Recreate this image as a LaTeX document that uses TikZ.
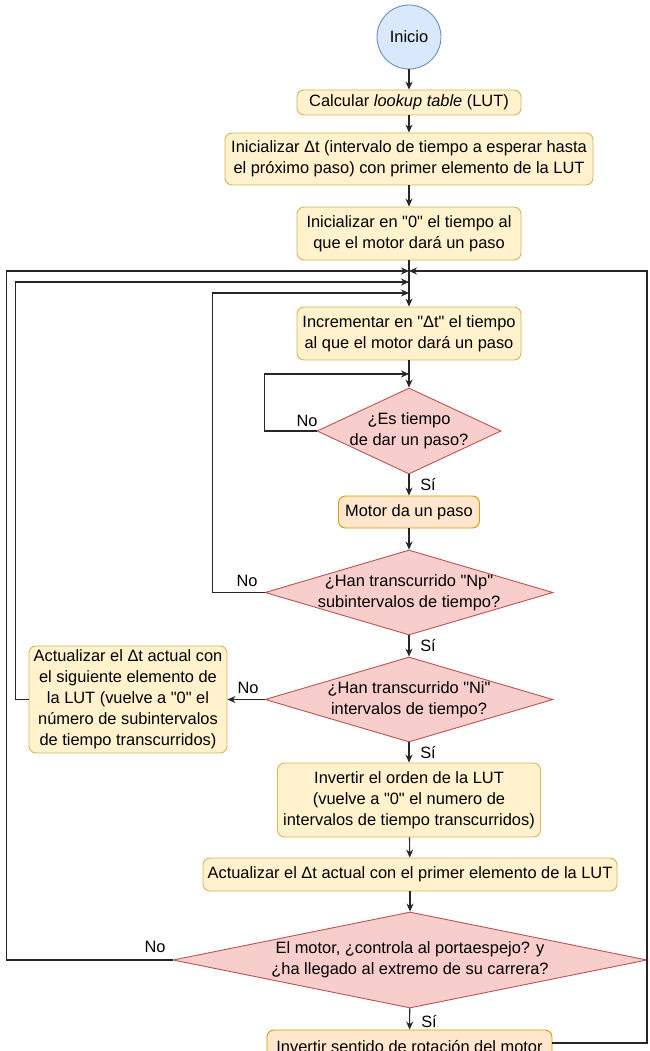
\documentclass[tikz,border=0pt]{standalone}
\usepackage{fontspec}
\setmainfont{Liberation Sans}[Ligatures=TeXOff]
\usetikzlibrary{shapes.geometric,arrows.meta}
\definecolor{yf}{HTML}{FFF2CC}
\definecolor{yb}{HTML}{D6B656}
\definecolor{of}{HTML}{FFE6CC}
\definecolor{ob}{HTML}{D79B00}
\definecolor{rf}{HTML}{F8CECC}
\definecolor{rb}{HTML}{B85450}
\definecolor{bf}{HTML}{DAE8FC}
\definecolor{bb}{HTML}{6C8EBF}
\definecolor{lc}{HTML}{262626}
\tikzset{
  base/.style={font=\fontsize{16.4}{21}\selectfont, text=black},
  proc/.style={base, draw=yb, fill=yf, rounded corners=7pt, align=center, inner sep=0pt, line width=0.9pt},
  proco/.style={proc, draw=ob, fill=of},
  dia/.style={diamond, draw=rb, fill=rf, inner sep=0pt, line width=0.9pt},
  lbl/.style={base, inner sep=0pt, align=center},
  flow/.style={draw=lc, line width=1.1pt, -{Stealth[length=8pt,width=7pt]}},
}
\begin{document}
\begin{tikzpicture}[x=1pt,y=-1pt]
\useasboundingbox (0,0) rectangle (649,1051);
\clip (0,0) rectangle (649,1051);
\fill[white] (0,0) rectangle (649,1051);

% nodes
\node[base, circle, draw=bb, fill=bf, line width=0.9pt, minimum size=64pt, inner sep=0pt] (start) at (409,37) {Inicio};
\node[proc, minimum width=224pt, minimum height=25pt] (lut) at (409,102.5) {Calcular \textit{lookup table} (LUT)};
\node[proc, minimum width=368pt, minimum height=52pt] (initdt) at (409,159) {Inicializar Δt (intervalo de tiempo a esperar hasta\\el próximo paso) con primer elemento de la LUT};
\node[proc, minimum width=224pt, minimum height=53pt] (init0) at (409,233.5) {Inicializar en "0" el tiempo al\\que el motor dará un paso};
\node[proc, minimum width=224pt, minimum height=53pt] (incr) at (409,333.5) {Incrementar en "Δt" el tiempo\\al que el motor dará un paso};

\node[dia, minimum width=184pt, minimum height=86pt] (q1) at (409,431) {};
\node[lbl] (q1t) at (409,431) {¿Es tiempo\\de dar un paso?};

\node[proco, minimum width=141pt, minimum height=32pt] (step) at (409,512) {Motor da un paso};

\node[dia, minimum width=288pt, minimum height=85pt] (q2) at (409,592.5) {};
\node[lbl] (q2t) at (409,592.5) {¿Han transcurrido "Np"\\subintervalos de tiempo?};

\node[dia, minimum width=288pt, minimum height=85pt] (q3) at (409,699.5) {};
\node[lbl] (q3t) at (409,699.5) {¿Han transcurrido "Ni"\\intervalos de tiempo?};

\node[proc, minimum width=198pt, minimum height=107pt] (upd) at (128,699.5) {Actualizar el Δt actual con\\el siguiente elemento de\\la LUT (vuelve a "0" el\\número de subintervalos\\de tiempo transcurridos)};

\node[proc, minimum width=263pt, minimum height=74pt] (inv) at (409,800) {Invertir el orden de la LUT\\(vuelve a "0" el numero de\\intervalos de tiempo transcurridos)};
\node[proc, minimum width=414pt, minimum height=33pt] (updf) at (410,874.5) {Actualizar el Δt actual con el primer elemento de la LUT};

\node[dia, minimum width=474pt, minimum height=96pt] (q4) at (410,960) {};
\node[lbl] (q4t) at (410,960) {El motor, ¿controla al portaespejo? y\\¿ha llegado al extremo de su carrera?};

\node[proco, minimum width=285pt, minimum height=34pt] (rev) at (409.5,1047) {Invertir sentido de rotación del motor};

% junction coordinates
\coordinate (j1) at (409,271);
\coordinate (j2) at (409,282);
\coordinate (j3) at (409,293);
\coordinate (j4) at (409,374);
\coordinate (rc) at (647,271);

% main flow
\draw[flow] (start) -- (lut);
\draw[flow] (lut) -- (initdt);
\draw[flow] (initdt) -- (init0);
\draw[flow] (init0) -- (incr);
\draw[flow] (incr) -- (q1);
\draw[flow] (q1) -- (step);
\draw[flow] (step) -- (q2);
\draw[flow] (q2) -- (q3);
\draw[flow] (q3.west) -- (upd.east);
\draw[flow] (q3) -- (inv);
\draw[flow] (inv) -- (updf);
\draw[flow] (updf) -- (q4);
\draw[flow] (q4) -- (rev);

% loops
\draw[flow] (q4.west) -- ++(-166,0) |- (j1);
\draw[flow] ([yshift=4pt]rev.east) -| (rc) -- (j1);
\draw[flow] (upd.west) -- ++(-13,0) |- (j2);
\draw[flow] (q2.west) -- ++(-52,0) |- (j3);
\draw[flow] (q1.west) -- ++(-52,0) |- (j4);

% labels
\node[lbl] (l1) at (307,421) {No};
\node[lbl] (l2) at (428,485) {Sí};
\node[lbl] (l3) at (247,581) {No};
\node[lbl] (l4) at (428,646) {Sí};
\node[lbl] (l5) at (248,688) {No};
\node[lbl] (l6) at (428,753) {Sí};
\node[lbl] (l7) at (155,947) {No};
\node[lbl] (l8) at (429,1022) {Sí};
\end{tikzpicture}
\end{document}
